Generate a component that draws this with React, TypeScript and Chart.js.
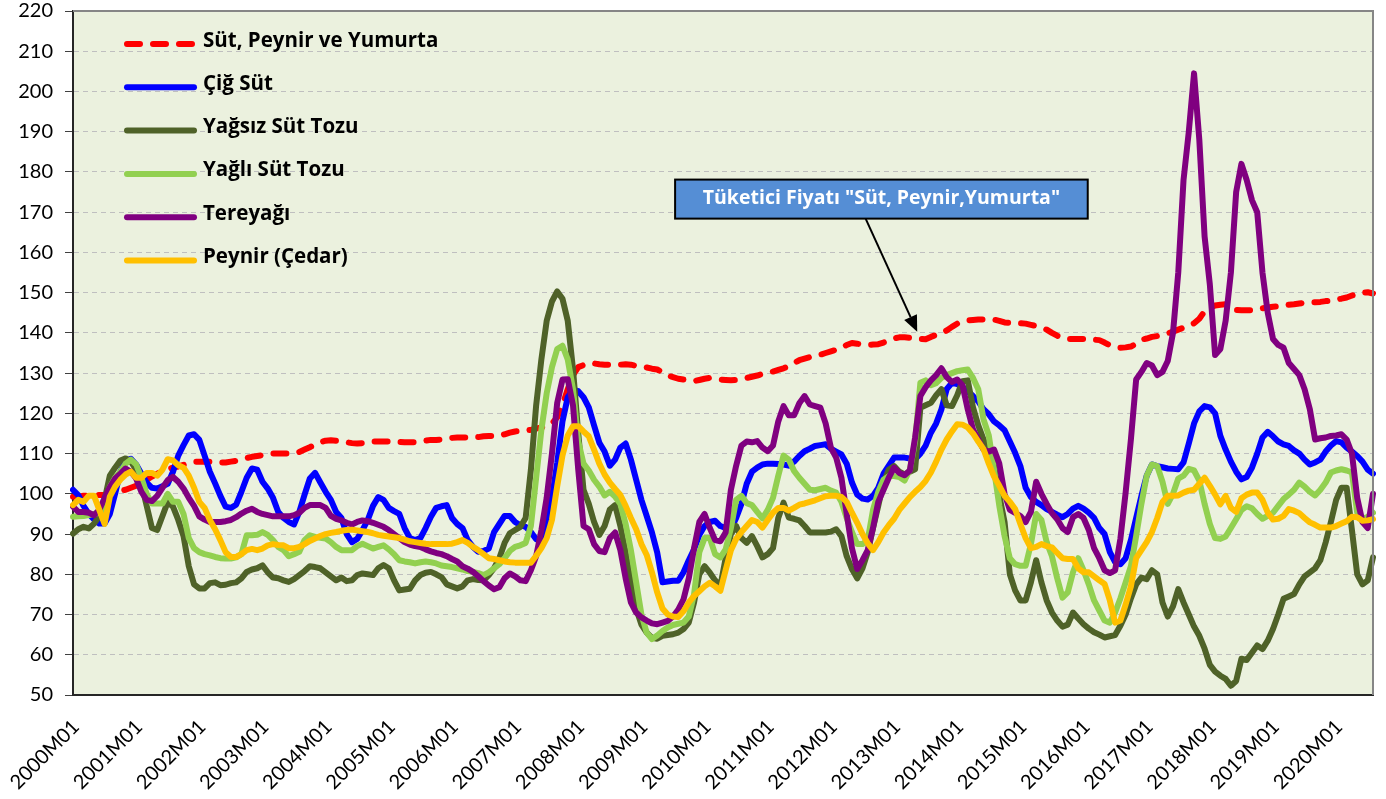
import React, { useEffect, useRef } from 'react';
import { Chart, registerables } from 'chart.js';

Chart.register(...registerables);

// ---------- Categories / ticks ----------
const YEARS = [2000, 2001, 2002, 2003, 2004, 2005, 2006, 2007, 2008, 2009, 2010,
  2011, 2012, 2013, 2014, 2015, 2016, 2017, 2018, 2019, 2020];
const MONTHS = ['01', '02', '03', '04', '05', '06', '07', '08', '09', '10', '11', '12'];
const LAST_YEAR_MONTHS = 8;
const CATEGORIES: string[] = YEARS.flatMap((y, i) =>
  MONTHS.slice(0, i === YEARS.length - 1 ? LAST_YEAR_MONTHS : 12).map((m) => `${y}M${m}`));

const Y_MIN = 50;
const Y_MAX = 220;
const Y_STEP = 10;

const SERIES_LABELS = [
  'Süt, Peynir ve Yumurta',
  'Çiğ Süt',
  'Yağsız Süt Tozu',
  'Yağlı Süt Tozu',
  'Tereyağı',
  'Peynir (Çedar)',
];

const ANNOTATION_TEXT = 'Tüketici Fiyatı "Süt, Peynir,Yumurta"';

// ---------- Series values (one row per year) ----------
const SUT_PEYNIR_YUMURTA = [
  99.3, 99.3, 99.5, 99.5, 99.6, 99.7, 99.7, 100, 100.4, 100.8, 101, 101.5,
  102, 102.8, 103.5, 104.3, 105, 105.6, 106.1, 106.5, 106.8, 107.2, 107.6, 107.9,
  108, 108, 108, 107.9, 107.8, 107.8, 108, 108.2, 108.5, 108.9, 109.2, 109.4,
  109.6, 109.8, 110, 110, 110, 110, 110.2, 110.4, 111, 111.6, 112.2, 112.8,
  113.2, 113.3, 113.2, 113, 112.8, 112.6, 112.5, 112.6, 112.8, 113, 113, 113,
  113, 113, 112.9, 112.8, 112.8, 112.8, 113, 113.2, 113.4, 113.4, 113.5, 113.7,
  113.9, 114, 114, 114, 114, 114.1, 114.3, 114.4, 114.4, 114.4, 114.8, 115.2,
  115.5, 115.6, 115.7, 115.9, 116.2, 116.5, 116.8, 117.5, 119, 122, 126, 129.5,
  131.5, 132, 132.5, 132.4, 132.2, 132.1, 132.1, 132.1, 132.1, 132.2, 132.1, 131.8,
  131.6, 131.4, 131.1, 130.9, 130.2, 129.4, 129, 128.6, 128.4, 128.2, 128, 128.3,
  128.6, 128.8, 128.6, 128.4, 128.3, 128.2, 128.3, 128.5, 128.8, 129.1, 129.4, 129.8,
  130.1, 130.4, 130.8, 131.2, 131.7, 132.5, 133.2, 133.6, 134, 134.3, 134.6, 135,
  135.4, 135.8, 136.2, 137, 137.5, 137.3, 137.1, 137, 137.1, 137.2, 137.6, 138,
  138.6, 138.9, 138.9, 138.8, 138.7, 138.5, 138.4, 139, 139.5, 139.9, 140.6, 141.5,
  142.3, 142.8, 143.1, 143.2, 143.3, 143.3, 143.3, 143.3, 143, 142.6, 142.5, 142.4,
  142.4, 142.3, 142, 141.7, 141.3, 140.8, 140, 139.3, 138.8, 138.5, 138.5, 138.5,
  138.5, 138.4, 138.3, 138.2, 137.6, 136.9, 136.5, 136.3, 136.4, 136.6, 137.3, 138.3,
  138.6, 139, 139.2, 139.5, 139.9, 140.3, 140.8, 141.3, 141.8, 142.4, 143.5, 145.4,
  146.2, 146.8, 147, 147.1, 146.5, 145.7, 145.6, 145.6, 145.6, 145.8, 146.1, 146.3,
  146.5, 146.6, 146.8, 147, 147.1, 147.3, 147.5, 147.6, 147.6, 147.7, 147.9, 148,
  148.3, 148.5, 148.8, 149.3, 149.6, 150, 150.1, 149.8,
];

const CIG_SUT = [
  101, 99.7, 97, 95, 93.6, 92.6, 92.6, 95, 100, 105.5, 108.2, 108.7,
  107.3, 105, 102.8, 101.5, 101.3, 101.9, 102.5, 105.5, 109.5, 112.1, 114.5, 114.8,
  113.4, 109.5, 105.5, 102.6, 99.5, 96.8, 96.5, 97.3, 100.5, 104, 106.3, 106,
  103, 101.3, 99, 95.5, 94, 93, 92.4, 95.5, 99.8, 103.8, 105.2, 102.8,
  100.5, 98.5, 95.5, 94, 90, 88, 88.8, 91, 93.5, 97, 99.2, 98.5,
  96.5, 95.7, 95, 91.5, 89, 88.5, 89, 91.5, 94.3, 96.5, 96.9, 97.2,
  94, 92.5, 91.5, 88.5, 86.8, 85.6, 85.8, 86.4, 90.5, 92.5, 94.5, 94.5,
  93, 92.2, 91.8, 90.5, 88.7, 88.5, 92, 99, 107.7, 118, 124, 125.9,
  125.5, 124, 121.5, 117, 112.7, 110.5, 107, 108.5, 111.5, 112.5, 108.5, 103.5,
  98.5, 94.5, 90.4, 85.4, 78, 78.2, 78.4, 78.4, 80.5, 83.5, 86.2, 89.8,
  92, 93, 93.3, 92, 91.5, 91.2, 94, 97.5, 102.5, 105.5, 106.5, 107.3,
  107.5, 107.5, 107.4, 107.3, 107, 108, 109.4, 110.6, 111.2, 111.9, 112.1, 112.3,
  111.2, 110.5, 109.8, 107.5, 102.8, 99.8, 98.8, 98.6, 99.5, 101.5, 105, 107,
  109, 109, 109, 108.8, 108.6, 110, 112, 115.2, 117.5, 121, 126, 127.6,
  127.3, 126.5, 125.5, 124.3, 123, 121, 119.8, 118, 117, 115.8, 113, 110.2,
  106.9, 101.5, 99.2, 98, 97.2, 96.2, 95.5, 94.8, 94.2, 95, 96.3, 97,
  96.3, 95.3, 94, 91.5, 90, 85.5, 83, 82.5, 84, 88.5, 94, 99.5,
  104.5, 107.3, 106.9, 106.6, 106.3, 106.2, 106.1, 107.8, 112.5, 117.5, 120.5, 121.8,
  121.5, 120, 114.4, 111, 108, 105.5, 103.6, 104.2, 106.5, 110, 114, 115.4,
  114.3, 113, 112.3, 111.9, 110.8, 110, 108.5, 107.3, 107.8, 108.5, 110.5, 112,
  113.1, 112.8, 111.5, 110.5, 109.4, 108, 106, 105,
];

const YAGSIZ_SUT_TOZU = [
  90.1, 91.2, 91.8, 91.4, 92.6, 94.5, 98.5, 104.5, 106.5, 108.3, 108.8, 108,
  106, 102.5, 97, 91.5, 91, 94.5, 98, 96.8, 93.5, 89.5, 82, 77.5,
  76.5, 76.5, 77.8, 78, 77.3, 77.4, 77.8, 78, 79, 80.6, 81.2, 81.5,
  82.2, 80.5, 79.2, 79, 78.5, 78.1, 78.8, 79.8, 80.8, 82, 81.8, 81.5,
  80.5, 79.5, 78.5, 79.2, 78.3, 78.5, 79.8, 80.2, 80, 79.8, 81.5, 82.3,
  81.5, 78.5, 76, 76.2, 76.4, 78.5, 79.8, 80.4, 80.6, 80, 79.3, 77.5,
  77, 76.5, 77, 78.5, 78.8, 78.6, 78.5, 79.8, 81.5, 84, 87.8, 90.2,
  91, 91.8, 94, 106, 122, 133.5, 143, 147.8, 150.3, 148.5, 143, 131,
  115, 101, 97.5, 93, 89.8, 92, 96.1, 97.2, 92, 85.5, 78, 71.5,
  67.5, 65.5, 64.2, 64, 64.7, 64.9, 65.1, 65.5, 66.4, 68, 73, 80,
  82, 80.4, 78.5, 77.1, 84, 90, 92, 89, 87.8, 89.5, 87, 84.2,
  85, 86.5, 94, 97.8, 94.1, 93.8, 93.4, 92, 90.4, 90.4, 90.4, 90.4,
  90.6, 91.2, 89.5, 84.5, 81.3, 79, 81.5, 85.5, 91.5, 97, 102.8, 106,
  106.9, 105.5, 104.8, 105.5, 106.1, 121.4, 122, 122.6, 124.5, 126, 122, 121.8,
  124.5, 128, 128.2, 121.5, 117, 113.5, 110.5, 107, 99.5, 93, 80, 76,
  73.5, 73.5, 78, 83.5, 78, 73.5, 70.5, 68.5, 67, 67.5, 70.5, 69,
  67.6, 66.5, 65.6, 65, 64.3, 64.6, 64.9, 67.2, 70, 74, 77.5, 79.2,
  78.8, 81, 80, 73, 69.5, 72, 76.3, 73, 70, 67, 64.7, 61.5,
  57.5, 55.8, 54.8, 54, 52.3, 53.5, 59, 58.7, 60.5, 62.3, 61.4, 63.5,
  66.4, 70, 73.9, 74.5, 75.1, 77.5, 79.5, 80.5, 81.5, 83.5, 87.9, 93,
  98.5, 101.5, 101.5, 91, 80, 77.5, 78.5, 84.2,
];

const YAGLI_SUT_TOZU = [
  94.3, 94.4, 94.5, 94.7, 95, 95.3, 96.5, 101.7, 104, 105.5, 107.5, 108.5,
  107.3, 104, 100, 97.6, 97.6, 97.6, 100, 98, 98, 95, 89, 86.5,
  85.5, 85, 84.7, 84.3, 84, 83.9, 83.9, 84.2, 85, 89.7, 89.7, 89.8,
  90.5, 89.8, 88.5, 86.8, 86, 84.5, 85, 85.6, 88.5, 89.7, 89.3, 89.1,
  88.9, 88, 86.8, 86, 86, 86, 87, 87.6, 87, 86.4, 86.8, 87.2,
  86.2, 85, 83.5, 83.2, 83, 82.7, 83, 83.2, 83, 82.7, 82.2, 82,
  81.8, 81.5, 81.2, 80.8, 80.6, 80.3, 79.8, 80.5, 81.5, 82.5, 84, 85.8,
  86.8, 87.2, 87.8, 92, 104, 116, 125, 131.5, 136, 136.8, 133.4, 126,
  113, 107.5, 105.8, 103.5, 101.8, 99.6, 100.5, 99.3, 97.5, 92.5, 86, 78,
  70, 65.5, 63.9, 64.8, 65.9, 66.8, 67.4, 67.7, 68, 69.5, 75, 85.5,
  89, 89, 85, 84.2, 86.2, 91.5, 98.5, 99.5, 97.7, 97.2, 95.5, 93.9,
  96, 99, 104.5, 109.5, 108.5, 105.7, 104, 102.5, 101, 100.9, 101.2, 101.5,
  100.8, 100.3, 98, 94, 90.5, 87.5, 87.5, 88.5, 96, 100.5, 103.5, 104.4,
  104.4, 104.2, 103.3, 106, 113, 127.6, 128.2, 127, 127.5, 128.8, 129.5, 130,
  130.5, 130.7, 130.9, 128.8, 126, 118.5, 114.5, 106, 97, 89.5, 84, 82.5,
  82.1, 82.1, 87.5, 95, 93.5, 88, 84.5, 79, 74.2, 75.5, 80.5, 84,
  81, 77.5, 73.5, 71, 68.5, 68, 70.5, 74, 78, 82, 89.5, 97.5,
  104.5, 107.3, 106.9, 103, 97.5, 100, 103.8, 104.5, 106.2, 105.8, 103.3, 97.5,
  92.5, 89, 88.8, 89.4, 91.5, 93.7, 96, 96.9, 96.4, 95, 93.8, 94.5,
  95.3, 97, 98.7, 99.8, 101, 102.8, 101.8, 100.5, 99.6, 101, 102.8, 105.3,
  105.8, 106.1, 105.8, 105.3, 95.3, 93.8, 94.3, 95.3,
];

const TEREYAGI = [
  96.8, 95.5, 95.5, 95.3, 94.7, 96, 99, 101.7, 103.8, 105, 106.3, 105.5,
  103.8, 100.5, 98.5, 98.2, 99.5, 101.5, 103.4, 104.2, 103, 101.3, 99, 97,
  94.4, 93.6, 93, 93, 93, 93.2, 93.5, 94.2, 95.1, 95.8, 96.3, 95.5,
  95, 94.7, 94.4, 94.4, 94.4, 94.4, 94.7, 95.3, 96.5, 97.2, 97.2, 97.2,
  96.5, 94.5, 93.8, 93.4, 92.8, 92.4, 93, 93.4, 93.2, 92.8, 92.3, 91.8,
  91, 90, 89, 88, 87.4, 87, 86.8, 86.2, 85.7, 85.3, 85, 84.5,
  83.8, 83.2, 82, 81.4, 80.6, 79.5, 78.3, 77.2, 76.3, 76.8, 79, 80.2,
  79.5, 78.5, 78.3, 81, 84.5, 91, 99, 110, 122.6, 128.4, 128.5, 122,
  106, 92, 91.2, 87.5, 85.8, 85.5, 89, 90.4, 86, 79, 73, 70.5,
  69.3, 68.5, 67.8, 67.6, 68, 68.4, 69.5, 71.2, 73.8, 79, 86.5, 93,
  95, 91.5, 88.5, 88.2, 90.4, 101, 107, 112, 113, 112.8, 113.1, 111.5,
  110.6, 112, 118, 121.8, 119.5, 119.5, 122.5, 124.3, 122.2, 121.8, 121.4, 117.5,
  111.5, 109, 104, 95, 86.5, 81.3, 83.5, 86, 91.5, 98, 101, 104,
  106.5, 105.2, 104.6, 105.8, 114, 124.3, 126.5, 128.2, 129.5, 131.2, 129, 127.8,
  128.4, 127, 121, 116, 113.5, 111, 110.5, 111, 107.5, 100, 96, 95.3,
  94.5, 93, 95.5, 103, 100, 97.5, 95.2, 93.7, 91.5, 90.5, 94.2, 95,
  94, 91, 86.5, 84, 81, 80.3, 81, 88.8, 100.3, 113.5, 128.4, 130.3,
  132.5, 131.9, 129.5, 130.3, 133, 140, 155, 178, 190, 204.5, 188, 164,
  152, 134.5, 136, 143, 155, 175, 182, 178, 173, 170, 155, 145,
  138.5, 137, 136.3, 132.5, 131, 129.5, 126, 121, 113.5, 113.8, 114, 114.4,
  114.5, 114.8, 113.5, 110, 99, 93, 91.5, 100,
];

const PEYNIR_CEDAR = [
  97.2, 98.5, 98, 99.5, 99.5, 96, 92.5, 99.3, 101.8, 103.5, 104.8, 105.5,
  104, 104, 105.2, 105.2, 104.5, 106, 108.6, 108.3, 107.1, 106.5, 104.5, 101.5,
  98, 96.5, 93.5, 91.2, 88.5, 85.5, 84.3, 84.3, 85, 86, 86.3, 86,
  86.4, 87.2, 87.5, 87.3, 87.2, 86.5, 86.5, 86.8, 87.5, 88.3, 88.9, 89.5,
  90, 90.3, 90.5, 90.8, 91, 91.1, 90.9, 90.7, 90.5, 90.2, 89.8, 89.6,
  89.4, 89.2, 89, 88.6, 88.2, 88, 87.8, 87.6, 87.5, 87.5, 87.5, 87.5,
  87.6, 88, 88.5, 87.8, 86.8, 86, 85, 84, 83.8, 83.5, 83.2, 83,
  82.9, 82.9, 82.9, 82.9, 84.6, 86.5, 89, 93.5, 101.9, 109.5, 114.5, 116.8,
  116.8, 115.5, 114.3, 111, 107.5, 104.8, 102.8, 101.2, 99.7, 97, 94, 91.2,
  87.5, 84.8, 80.5, 75.5, 71.5, 70, 69.5, 69.4, 70.8, 73, 74.6, 75.8,
  77, 77.9, 77, 75.9, 81, 86, 88.8, 90.5, 92, 93.5, 93, 91.6,
  93.5, 95.3, 96.5, 96.5, 95.8, 96.5, 97.3, 97.6, 98, 98.4, 98.9, 99.4,
  99.5, 99.5, 99.2, 98, 95.3, 92.8, 90, 87.7, 86, 88, 90.4, 92.2,
  93.8, 96, 97.6, 99.2, 100.5, 101.7, 103.2, 105.3, 108, 111, 113.5, 115.5,
  117.3, 117.2, 116.5, 115, 113, 111.1, 107.5, 104.3, 102, 99.5, 98, 96.2,
  92.5, 89, 86.5, 86.8, 87.5, 87, 86.7, 85.3, 84, 83.8, 83.8, 81.5,
  80.5, 80.5, 79.5, 78.5, 77.6, 73.5, 68, 68.5, 72.5, 77, 84, 86,
  88, 90.5, 94, 98, 99.5, 99.5, 99.6, 100.3, 100.8, 101, 102.5, 104,
  102, 99.8, 97.4, 99.5, 96.5, 95.5, 98.9, 99.8, 100.3, 100.3, 98.5, 95.3,
  93.6, 93.8, 94.5, 96.2, 95.8, 95.2, 94, 92.9, 92.3, 91.6, 91.6, 91.6,
  92, 92.6, 93.2, 94.3, 94.2, 93.3, 93.4, 93.7,
];

const SERIES = [SUT_PEYNIR_YUMURTA, CIG_SUT, YAGSIZ_SUT_TOZU, YAGLI_SUT_TOZU, TEREYAGI, PEYNIR_CEDAR];

// ---------- Styles ----------
const COLORS = ['#FF0000', '#0000FF', '#4F6228', '#92D050', '#800080', '#FFC000'];
const DASHES = [[13, 13], [], [], [], [], []];
const LINE_WIDTH = 6;
const TICK_FONT = 'Lato';
const TEXT_FONT = '"Open Sans"';
const PLOT_BG = '#EBF1DE';

// annotation placement (category index / value units)
const ANN_BOX = { fromIndex: 114.4, toIndex: 192.8, topValue: 178.1, bottomValue: 168.4 };
const ANN_ARROW = { fromIndex: 150.6, toIndex: 160.4, toValue: 140.3 };

const bgPlugin = {
  id: 'plotBg',
  beforeDraw(chart: any) {
    const { ctx, chartArea: a } = chart;
    ctx.save();
    ctx.fillStyle = PLOT_BG;
    ctx.fillRect(a.left, a.top, a.right - a.left, a.bottom - a.top);
    ctx.restore();
  },
};

const framePlugin = {
  id: 'plotFrame',
  afterDraw(chart: any) {
    const { ctx, chartArea: a } = chart;
    ctx.save();
    ctx.strokeStyle = '#868686';
    ctx.lineWidth = 2;
    ctx.beginPath();
    ctx.moveTo(a.left, a.top);
    ctx.lineTo(a.right, a.top);
    ctx.lineTo(a.right, a.bottom);
    ctx.stroke();
    ctx.restore();
  },
};

const legendPlugin = {
  id: 'insideLegend',
  afterDatasetsDraw(chart: any) {
    const { ctx, chartArea: a } = chart;
    ctx.save();
    SERIES_LABELS.forEach((label, i) => {
      const y = a.top + 33 + i * 43.3;
      ctx.beginPath();
      ctx.strokeStyle = COLORS[i];
      ctx.lineWidth = LINE_WIDTH;
      ctx.lineCap = 'round';
      ctx.setLineDash(DASHES[i]);
      ctx.moveTo(a.left + 54, y);
      ctx.lineTo(a.left + 121, y);
      ctx.stroke();
      ctx.setLineDash([]);
      ctx.fillStyle = '#000';
      ctx.font = `bold 20.5px ${TEXT_FONT}`;
      ctx.textAlign = 'left';
      ctx.textBaseline = 'alphabetic';
      ctx.fillText(label, a.left + 130, y + 2.5);
    });
    ctx.restore();
  },
};

const annotationPlugin = {
  id: 'calloutBox',
  afterDatasetsDraw(chart: any) {
    const { ctx } = chart;
    const xs = chart.scales.x;
    const ys = chart.scales.y;
    const left = xs.getPixelForValue(ANN_BOX.fromIndex);
    const right = xs.getPixelForValue(ANN_BOX.toIndex);
    const top = ys.getPixelForValue(ANN_BOX.topValue);
    const bottom = ys.getPixelForValue(ANN_BOX.bottomValue);
    ctx.save();
    const sx = xs.getPixelForValue(ANN_ARROW.fromIndex);
    const sy = bottom;
    const tx = xs.getPixelForValue(ANN_ARROW.toIndex);
    const ty = ys.getPixelForValue(ANN_ARROW.toValue);
    const ang = Math.atan2(ty - sy, tx - sx);
    const headLen = 16;
    const headHalf = 7;
    const bx = tx - headLen * Math.cos(ang);
    const by = ty - headLen * Math.sin(ang);
    ctx.strokeStyle = '#000';
    ctx.lineWidth = 2;
    ctx.beginPath();
    ctx.moveTo(sx, sy);
    ctx.lineTo(bx, by);
    ctx.stroke();
    ctx.fillStyle = '#000';
    ctx.beginPath();
    ctx.moveTo(tx, ty);
    ctx.lineTo(bx + headHalf * Math.sin(ang), by - headHalf * Math.cos(ang));
    ctx.lineTo(bx - headHalf * Math.sin(ang), by + headHalf * Math.cos(ang));
    ctx.closePath();
    ctx.fill();
    ctx.fillStyle = '#558ED5';
    ctx.fillRect(left, top, right - left, bottom - top);
    ctx.strokeStyle = '#000';
    ctx.lineWidth = 2;
    ctx.strokeRect(left, top, right - left, bottom - top);
    ctx.fillStyle = '#FFFFFF';
    ctx.font = `bold 19.5px ${TEXT_FONT}`;
    ctx.textAlign = 'center';
    ctx.textBaseline = 'alphabetic';
    ctx.fillText(ANNOTATION_TEXT, (left + right) / 2, top + 24);
    ctx.restore();
  },
};

export default function App() {
  const canvasRef = useRef<HTMLCanvasElement>(null);

  useEffect(() => {
    document.body.style.margin = '0';
    SERIES.forEach((s, i) => {
      if (s.length !== CATEGORIES.length) console.error('length mismatch', i, s.length, CATEGORIES.length);
    });
    const chart = new Chart(canvasRef.current as HTMLCanvasElement, {
      type: 'line',
      data: {
        labels: CATEGORIES,
        datasets: SERIES.map((d, i) => ({
          label: SERIES_LABELS[i],
          data: d,
          borderColor: COLORS[i],
          backgroundColor: COLORS[i],
          borderWidth: LINE_WIDTH,
          borderDash: DASHES[i],
          borderCapStyle: 'round',
          borderJoinStyle: 'round',
          pointRadius: 0,
          pointHoverRadius: 0,
          tension: 0,
          fill: false,
          order: SERIES.length - i,
        })),
      },
      options: {
        responsive: false,
        devicePixelRatio: 1,
        animation: false,
        events: [],
        layout: { padding: { top: 11, right: 13, left: 0, bottom: 0 } },
        plugins: { legend: { display: false }, tooltip: { enabled: false } },
        scales: {
          x: {
            type: 'category',
            offset: false,
            grid: { display: false },
            border: { display: true, color: '#262626', width: 2 },
            ticks: {
              autoSkip: false,
              minRotation: 45,
              maxRotation: 45,
              padding: 12,
              labelOffset: 3,
              color: '#000',
              font: { family: TICK_FONT, size: 20 },
              callback: (_v: any, i: number) => (CATEGORIES[i].endsWith('M01') ? CATEGORIES[i] : ''),
            },
            afterFit: (s: any) => {
              s.height = 104;
              s.paddingLeft = 0;
              s.paddingRight = 0;
            },
          },
          y: {
            min: Y_MIN,
            max: Y_MAX,
            ticks: {
              stepSize: Y_STEP,
              padding: 12,
              color: '#000',
              font: { family: TICK_FONT, size: 20, lineHeight: 1 },
            },
            grid: {
              color: '#BFBFBF',
              lineWidth: 1,
              tickLength: 8,
              tickColor: '#404040',
              tickWidth: 1,
              tickBorderDash: [],
            },
            border: { display: true, color: '#262626', width: 2, dash: [5, 4] },
            afterFit: (s: any) => {
              s.width = 73;
              s.paddingTop = 0;
              s.paddingBottom = 0;
            },
          },
        },
      } as any,
      plugins: [bgPlugin, framePlugin, legendPlugin, annotationPlugin],
    });
    return () => chart.destroy();
  }, []);

  return <canvas ref={canvasRef} width={1386} height={799} style={{ display: 'block' }} />;
}
